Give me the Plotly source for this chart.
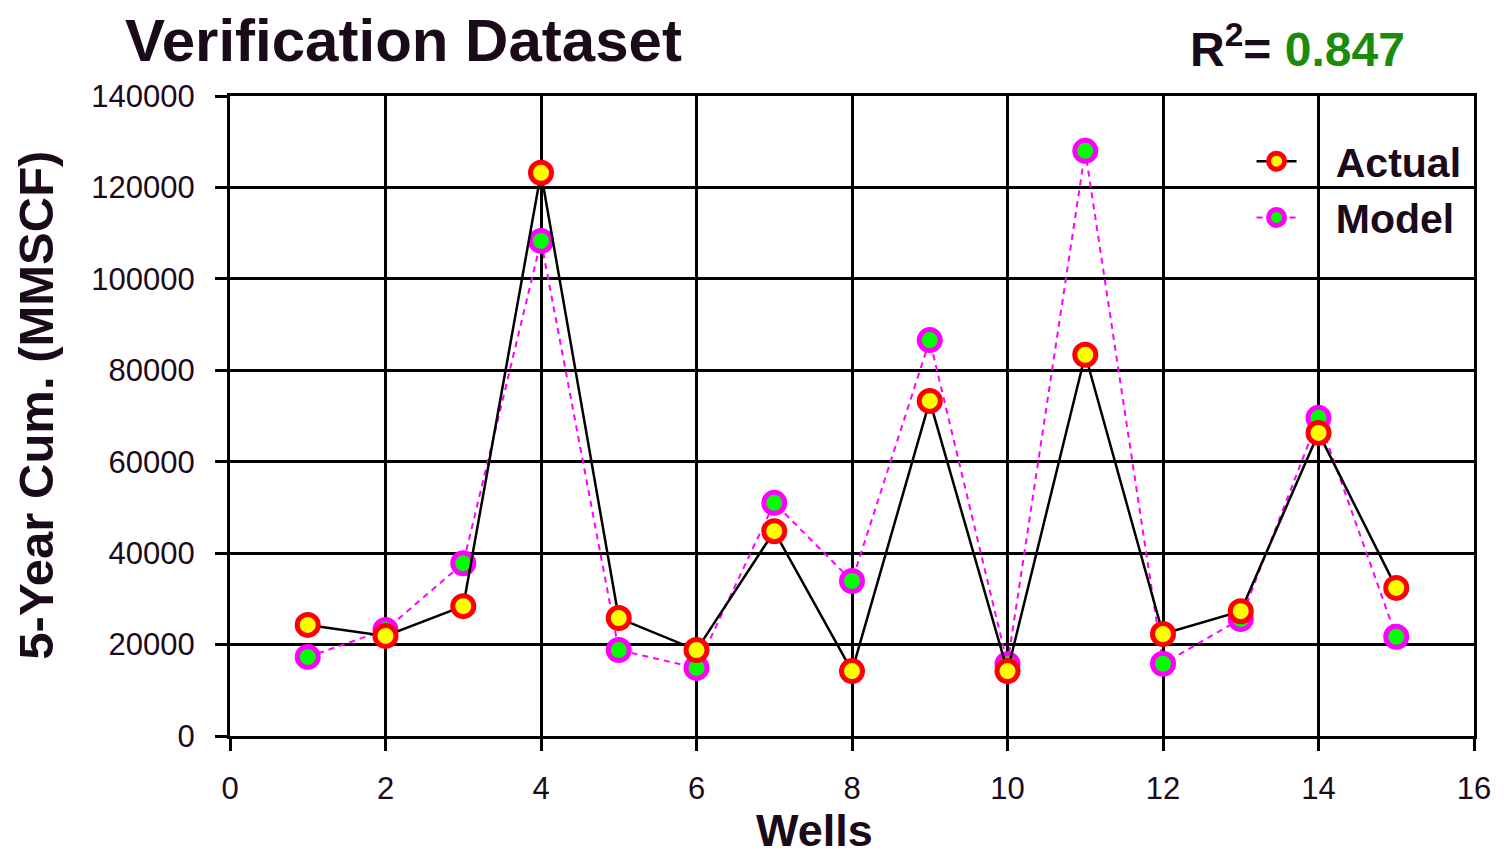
import plotly.graph_objects as go

wells = list(range(1, 16))
actual = [24300, 21900, 28400, 123200, 25800, 18800, 44800, 14200,
          73300, 14200, 83400, 22300, 27300, 66300, 32400]
model = [17300, 23200, 37800, 108300, 18800, 14900, 51000, 33900,
         86600, 15700, 128000, 15800, 25600, 69600, 21700]
r2 = "0.847"

ink = "#1a0a1a"
fig = go.Figure()

# Model drawn first so the actual points sit on top
fig.add_trace(go.Scatter(x=wells, y=model, name="Model", mode="lines+markers",
                         line=dict(color="#ff00ff", width=2, dash="6px,5px"),
                         marker=dict(size=21, color="#00ff00", symbol="circle",
                                     line=dict(color="#ff00ff", width=5)),
                         legendrank=2))
fig.add_trace(go.Scatter(x=wells, y=actual, name="Actual", mode="lines+markers",
                         line=dict(color="black", width=2.5),
                         marker=dict(size=21, color="#ffff00", symbol="circle",
                                     line=dict(color="#ff0000", width=5)),
                         legendrank=1))

axis_font = dict(family="Liberation Sans, Arial, sans-serif", size=31, color=ink)
fig.update_xaxes(range=[0, 16], tickvals=list(range(0, 17, 2)), showgrid=True,
                 gridcolor="black", gridwidth=3, showline=True, linecolor="black",
                 linewidth=3, mirror=True, ticks="outside", ticklen=12,
                 tickwidth=3, tickcolor="black", ticklabelstandoff=11,
                 tickfont=axis_font, zeroline=False)
fig.update_yaxes(range=[0, 140000], tickvals=list(range(0, 140001, 20000)),
                 tickformat="d", showgrid=True, gridcolor="black", gridwidth=3,
                 showline=True, linecolor="black", linewidth=3, mirror=True,
                 ticks="outside", ticklen=12, tickwidth=3, tickcolor="black",
                 ticklabelstandoff=14, tickfont=axis_font, zeroline=False)

bold = "Liberation Sans, Arial, sans-serif"
fig.add_annotation(text="<b>Verification Dataset</b>", xref="paper", yref="paper",
                   x=-0.086, y=1.0875, xanchor="left", yanchor="middle",
                   showarrow=False, font=dict(family=bold, size=60, color=ink))
fig.add_annotation(text="<b>R<sup>2</sup>= <span style='color:#1a8c0a'>" + r2 + "</span></b>",
                   xref="paper", yref="paper", x=0.770, y=1.078,
                   xanchor="left", yanchor="middle", showarrow=False,
                   font=dict(family=bold, size=48, color=ink))
fig.add_annotation(text="<b>5-Year Cum. (MMSCF)</b>", xref="paper", yref="paper",
                   x=-0.1555, y=0.517, textangle=-90, xanchor="center",
                   yanchor="middle", showarrow=False,
                   font=dict(family=bold, size=49, color=ink))
fig.add_annotation(text="<b>Wells</b>", xref="paper", yref="paper",
                   x=0.4696, y=-0.147, xanchor="center", yanchor="middle",
                   showarrow=False, font=dict(family=bold, size=45, color=ink))

# the page adds an 8px body margin, so the figure is shifted to compensate
fig.update_layout(width=1495, height=853, plot_bgcolor="white",
                  paper_bgcolor="white", showlegend=True,
                  margin=dict(l=222, r=21, t=88, b=125),
                  legend=dict(x=0.994, y=0.95, xanchor="right", yanchor="top",
                              bgcolor="rgba(0,0,0,0)", borderwidth=0,
                              font=dict(family=bold, size=41, color=ink),
                              itemwidth=40, tracegroupgap=0))
fig.for_each_trace(lambda t: t.update(name="&nbsp;&nbsp;&nbsp;<b>" + t.name + "</b>"))

fig.write_html("out.html")
